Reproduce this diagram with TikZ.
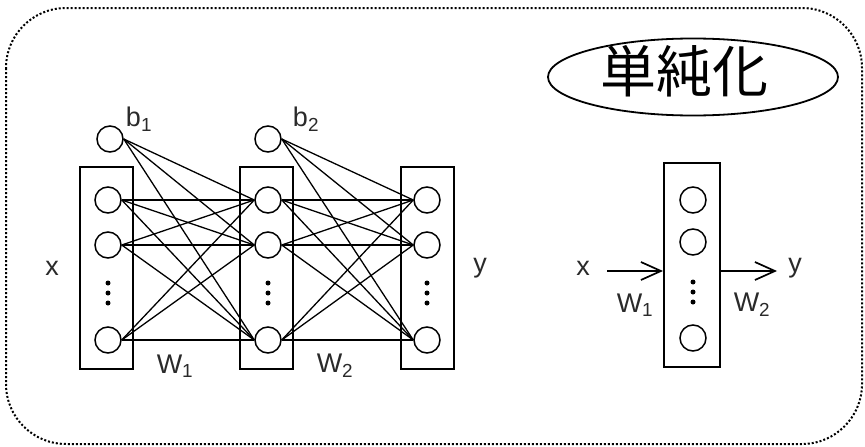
\documentclass[tikz,border=0pt]{standalone}
\usepackage{fontspec}
\setmainfont{Liberation Sans}
\newfontfamily\cjk{Noto Sans CJK JP}
\usetikzlibrary{arrows.meta, positioning, shapes.geometric}
\definecolor{cink}{HTML}{2A2A2A}
\tikzset{
  every picture/.style={line width=1.3pt},
  layer/.style={draw, line width=2pt, minimum width=#1, minimum height=202pt, inner sep=0pt},
  layer/.default=53pt,
  unit/.style={draw, circle, fill=white, minimum size=26pt, inner sep=0pt, line width=1.5pt},
  lbl/.style={font=\fontsize{27}{27}\selectfont, text=cink, inner sep=0pt},
  wire/.style={line width=1.3pt},
  arrow/.style={-{Straight Barb[length=20pt, width=18pt]}, line width=1.7pt},
}

\begin{document}
\begin{tikzpicture}[x=1pt, y=-1pt]
  \useasboundingbox (0,0) rectangle (865,447);
  \draw[dotted, line width=2pt, rounded corners=60pt] (6,8) rectangle (862,444);
  % full network
  \node[layer] (lin) at (106.5,268) {};
  \node[layer] (lhid) at (266.5,268) {};
  \node[layer] (lout) at (427.5,268) {};
  \foreach \i/\y in {1/200,2/245,3/340} {
    \node[unit] (l\i) at (108,\y) {};
    \node[unit] (h\i) at (268,\y) {};
    \node[unit] (o\i) at (427,\y) {};
  }
  \node[unit] (b1) at (110,139) {};
  \node[unit] (b2) at (268,139) {};
  \foreach \x in {108,268,427}
    \foreach \y in {283,293,303} \fill (\x,\y) circle (2.5pt);
  \foreach \i in {1,2,3}
    \foreach \j in {1,2,3} {
      \draw[wire] (l\i.east) -- (h\j.west);
      \draw[wire] (h\i.east) -- (o\j.west);
    }
  \foreach \j in {1,2,3} {
    \draw[wire] (b1.east) -- (h\j.west);
    \draw[wire] (b2.east) -- (o\j.west);
  }
  \node[lbl] (bl1) at (139,119) {b\textsubscript{1}};
  \node[lbl] (bl2) at (306,119) {b\textsubscript{2}};
  \node[lbl] (wl1) at (175,366) {W\textsubscript{1}};
  \node[lbl] (wl2) at (335,366) {W\textsubscript{2}};
  \node[lbl] (xl) at (52,268) {x};
  \node[lbl] (yl) at (480,268) {y};
  % simplified
  \node[draw, ellipse, line width=1.8pt, minimum width=290pt, minimum height=77pt, inner sep=0pt] (simp) at (693,77) {};
  \node[font=\cjk\fontsize{56}{56}\selectfont, inner sep=0pt] (simpt) at (684,71) {単純化};
  \node[layer=56pt, minimum height=204pt] (s) at (692,265) {};
  \foreach \i/\y in {1/200,2/242,3/338} \node[unit] (s\i) at (693,\y) {};
  \foreach \y in {282,292,302} \fill (693,\y) circle (2.5pt);
  \node[lbl] (xs) at (583,268) {x};
  \node[lbl] (ys) at (795,268) {y};
  \coordinate (xin) at (607,271);
  \coordinate (yout) at (777,271);
  \draw[arrow] (xin) -- (xin -| s.west);
  \draw[arrow] (s.east |- yout) -- (yout);
  \node[lbl] (ws1) at (635,305) {W\textsubscript{1}};
  \node[lbl] (ws2) at (752,305) {W\textsubscript{2}};
\end{tikzpicture}
\end{document}
